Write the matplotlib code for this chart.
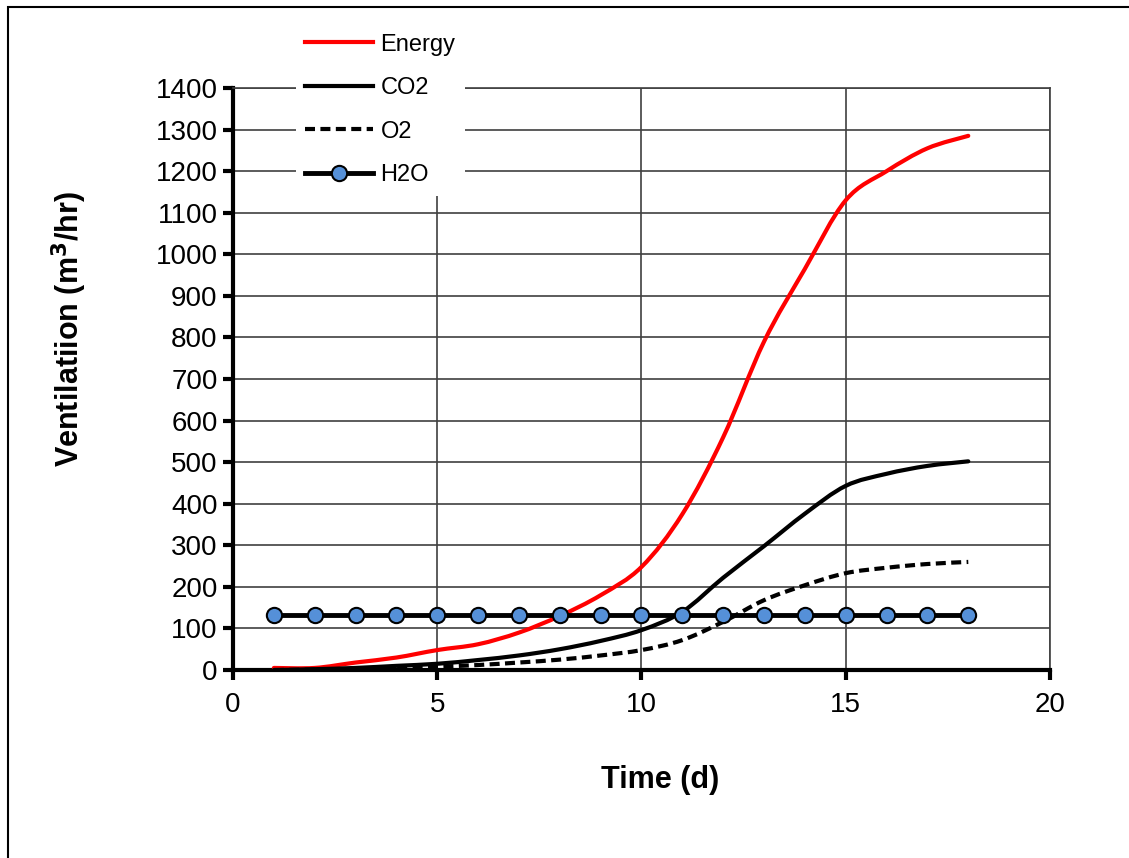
import matplotlib.pyplot as plt
import matplotlib.patches as mpatches
from matplotlib.path import Path
from matplotlib.lines import Line2D

plt.rcParams['font.family'] = ['Liberation Sans', 'DejaVu Sans']

days = list(range(1, 19))
energy = [5, 5, 18, 30, 48, 62, 90, 130, 180, 248, 375, 560, 790, 965, 1130, 1200, 1255, 1285]
co2 = [0, 2, 5, 10, 15, 24, 35, 50, 70, 96, 140, 222, 298, 376, 443, 472, 491, 502]
o2 = [0, 1, 3, 5, 8, 12, 18, 25, 35, 48, 72, 116, 168, 204, 233, 246, 255, 260]
h2o = [133] * 18


def smooth_path(xs, ys):
    # Excel-style smoothed line: cubic bezier through every point
    n = len(xs)
    verts = [(xs[0], ys[0])]
    codes = [Path.MOVETO]
    for i in range(n - 1):
        a = max(i - 1, 0)
        d = min(i + 2, n - 1)
        c1 = (xs[i] + (xs[i + 1] - xs[a]) / 6, ys[i] + (ys[i + 1] - ys[a]) / 6)
        c2 = (xs[i + 1] - (xs[d] - xs[i]) / 6, ys[i + 1] - (ys[d] - ys[i]) / 6)
        verts += [c1, c2, (xs[i + 1], ys[i + 1])]
        codes += [Path.CURVE4] * 3
    return Path(verts, codes)


fig = plt.figure(figsize=(11.29, 8.58), dpi=100)
ax = fig.add_axes([0.2064, 0.2191, 0.7236, 0.6783])

dash = (0, (2.4, 1.3))
ax.add_patch(mpatches.PathPatch(smooth_path(days, energy), fill=False, edgecolor='#ff0000',
                                lw=3, capstyle='round', zorder=3))
ax.add_patch(mpatches.PathPatch(smooth_path(days, co2), fill=False, edgecolor='black',
                                lw=3, capstyle='round', zorder=3))
ax.add_patch(mpatches.PathPatch(smooth_path(days, o2), fill=False, edgecolor='black',
                                lw=3, ls=dash, zorder=3))
ax.plot(days, h2o, color='black', lw=3.5, marker='o', ms=11, mfc='#5590d8', mec='black',
        mew=1.5, zorder=4)

ax.set_xlim(0, 20)
ax.set_ylim(0, 1400)
ax.set_xticks(range(0, 21, 5))
ax.set_yticks(range(0, 1401, 100))
ax.grid(True, color='#404040', lw=1.2)
ax.set_axisbelow(True)

for s in ['top', 'right']:
    ax.spines[s].set_color('#404040')
    ax.spines[s].set_linewidth(1.2)
for s in ['left', 'bottom']:
    ax.spines[s].set_linewidth(3)
ax.tick_params(axis='both', which='major', length=7, width=3, direction='out', labelsize=20, pad=4)
ax.tick_params(axis='x', pad=9)

ax.set_xlabel('Time (d)', fontsize=22, fontweight='bold')
ax.xaxis.set_label_coords(0.5226, -0.163)
ax.set_ylabel('Ventilatiion (m$\\mathbf{^3}$/hr)', fontsize=22, fontweight='bold')
ax.yaxis.set_label_coords(-0.176, 0.586)

handles = [
    Line2D([], [], color='#ff0000', lw=3),
    Line2D([], [], color='black', lw=3),
    Line2D([], [], color='black', lw=3, ls=dash),
    Line2D([], [], color='black', lw=3.5, marker='o', ms=11, mfc='#5590d8', mec='black', mew=1.5),
]
labels = ['Energy', 'CO2', 'O2', 'H2O']
leg = fig.legend(handles, labels, loc='upper left', bbox_to_anchor=(0.2513, 0.9855), fontsize=17,
                 frameon=True, facecolor='white', edgecolor='none', framealpha=1,
                 handlelength=2.9, handletextpad=0.3, labelspacing=0.91,
                 borderpad=0.4)
leg.get_frame().set_boxstyle('square', pad=0)

fig.add_artist(mpatches.Rectangle((0.0071, -0.01), 1.2, 0.9918 + 0.01, transform=fig.transFigure,
                                  fill=False, edgecolor='black', lw=1.5))

fig.savefig('out.png', dpi=100)
